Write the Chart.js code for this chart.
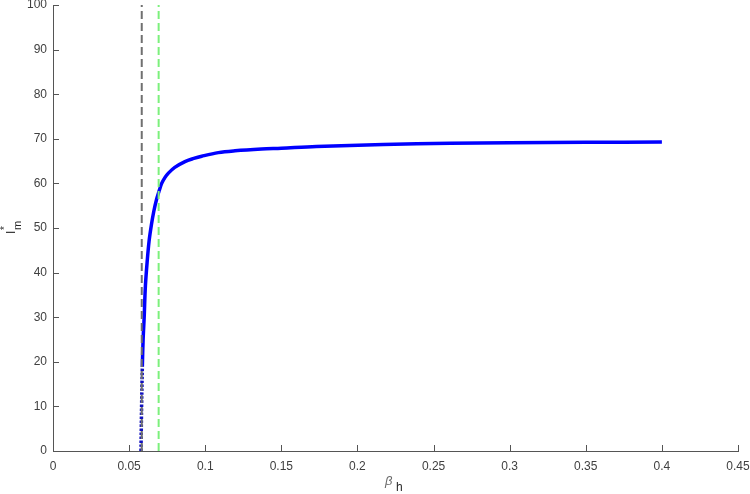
<!DOCTYPE html>
<html>
<head>
<meta charset="utf-8">
<script src="https://cdn.jsdelivr.net/npm/chart.js@4/dist/chart.umd.min.js"></script>
<style>
  html, body { margin: 0; padding: 0; background: #fff; }
  #wrap { width: 750px; height: 494px; position: relative; }
</style>
</head>
<body>
<div id="wrap"><canvas id="c" width="750" height="494"></canvas></div>
<script>
// ---- data ----
const betaH = [0.0578, 0.0580, 0.0582, 0.0587, 0.0592, 0.0599, 0.0607, 0.0620, 0.0631, 0.0646,
               0.0662, 0.0681, 0.0698, 0.0714, 0.0735, 0.0758, 0.0800, 0.0867, 0.0925, 0.0977,
               0.1086, 0.1196, 0.137, 0.150, 0.173, 0.217, 0.261, 0.30, 0.35, 0.40];
const infectedM = [0, 5, 10, 19, 25, 30, 37, 43, 47, 50.6,
                   53.7, 56.5, 58.4, 60.0, 61.3, 62.3, 63.6, 64.9, 65.6, 66.1,
                   66.9, 67.3, 67.7, 67.9, 68.3, 68.7, 69.0, 69.1, 69.2, 69.3];
const thresholdGray = 0.0583;
const thresholdGreen = 0.0694;
const xTickValues = [0, 0.05, 0.1, 0.15, 0.2, 0.25, 0.3, 0.35, 0.4, 0.45];
const xTickLabels = ['0', '0.05', '0.1', '0.15', '0.2', '0.25', '0.3', '0.35', '0.4', '0.45'];
const yTickValues = [0, 10, 20, 30, 40, 50, 60, 70, 80, 90, 100];
const yTickLabels = ['0', '10', '20', '30', '40', '50', '60', '70', '80', '90', '100'];
const dottedBelow = 22;

const curve = betaH.map((x, i) => ({ x: x, y: infectedM[i] }));
const vline = (x) => [{ x: x, y: 0 }, { x: x, y: 100 }];

const FONT = "'Liberation Sans', Arial, Helvetica, sans-serif";
const AXIS = '#555555';

const decor = {
  id: 'decor',
  afterDraw(chart) {
    const ctx = chart.ctx, xs = chart.scales.x, ys = chart.scales.y;
    ctx.save();
    // inward ticks
    ctx.strokeStyle = AXIS; ctx.lineWidth = 1;
    ctx.beginPath();
    xs.ticks.forEach(t => {
      const px = Math.round(xs.getPixelForValue(t.value)) + 0.5;
      ctx.moveTo(px, ys.bottom); ctx.lineTo(px, ys.bottom - 6);
    });
    ys.ticks.forEach(t => {
      const py = Math.round(ys.getPixelForValue(t.value)) + 0.5;
      ctx.moveTo(xs.left, py); ctx.lineTo(xs.left + 6, py);
    });
    ctx.stroke();

    // y axis title  I*_m
    ctx.save();
    ctx.translate(15, 229);
    ctx.rotate(-Math.PI / 2);
    ctx.fillStyle = '#262626';
    ctx.textBaseline = 'alphabetic';
    ctx.font = '12px ' + FONT;
    ctx.fillText('I', -5, 0);
    ctx.font = '10px ' + FONT;
    ctx.fillText('*', -1, -7);
    ctx.font = '11px ' + FONT;
    ctx.fillText('m', -1, 6);
    ctx.restore();

    // x axis title  β_h
    ctx.fillStyle = '#6a6a6a';
    ctx.font = 'italic 13px ' + FONT;
    ctx.fillText('\u03B2', 385, 485);
    ctx.fillStyle = '#262626';
    ctx.font = '12px ' + FONT;
    ctx.fillText('h', 396, 491);
    ctx.restore();
  }
};

new Chart(document.getElementById('c'), {
  type: 'line',
  data: {
    datasets: [
      {
        data: vline(thresholdGray), borderColor: '#707070', borderWidth: 2,
        borderDash: [8, 4], pointRadius: 0, order: 0
      },
      {
        data: vline(thresholdGreen), borderColor: '#7cf07c', borderWidth: 2,
        borderDash: [8, 4], pointRadius: 0, order: 0
      },
      {
        data: curve, borderColor: '#0000ff', borderWidth: 3.5, pointRadius: 0,
        tension: 0.35, order: 1,
        segment: {
          borderDash: c => (c.p1.parsed.y <= dottedBelow ? [2.5, 1.5] : undefined),
          borderColor: c => (c.p1.parsed.y <= dottedBelow ? '#1010c0' : undefined)
        }
      }
    ]
  },
  options: {
    responsive: false,
    animation: false,
    parsing: true,
    layout: { padding: { left: 0, right: 12, top: 5, bottom: 0 } },
    plugins: { legend: { display: false }, tooltip: { enabled: false } },
    scales: {
      x: {
        type: 'linear', min: 0, max: 0.45,
        afterBuildTicks: s => { s.ticks = xTickValues.map(v => ({ value: v })); },
        afterFit: s => { s.height = 43; s.paddingLeft = 0; s.paddingRight = 0; },
        ticks: {
          callback: (v, i) => xTickLabels[i],
          color: '#404040', font: { family: FONT, size: 12 }, padding: 8, maxRotation: 0, autoSkip: false
        },
        grid: { display: false, drawTicks: false },
        border: { display: true, color: AXIS, width: 1 }
      },
      y: {
        type: 'linear', min: 0, max: 100,
        afterBuildTicks: s => { s.ticks = yTickValues.map(v => ({ value: v })); },
        afterFit: s => { s.width = 53; s.paddingTop = 0; s.paddingBottom = 0; },
        ticks: {
          callback: (v, i) => yTickLabels[i],
          color: '#404040', font: { family: FONT, size: 12 }, padding: 6, autoSkip: false
        },
        grid: { display: false, drawTicks: false },
        border: { display: true, color: AXIS, width: 1 }
      }
    }
  },
  plugins: [decor]
});
</script>
</body>
</html>
